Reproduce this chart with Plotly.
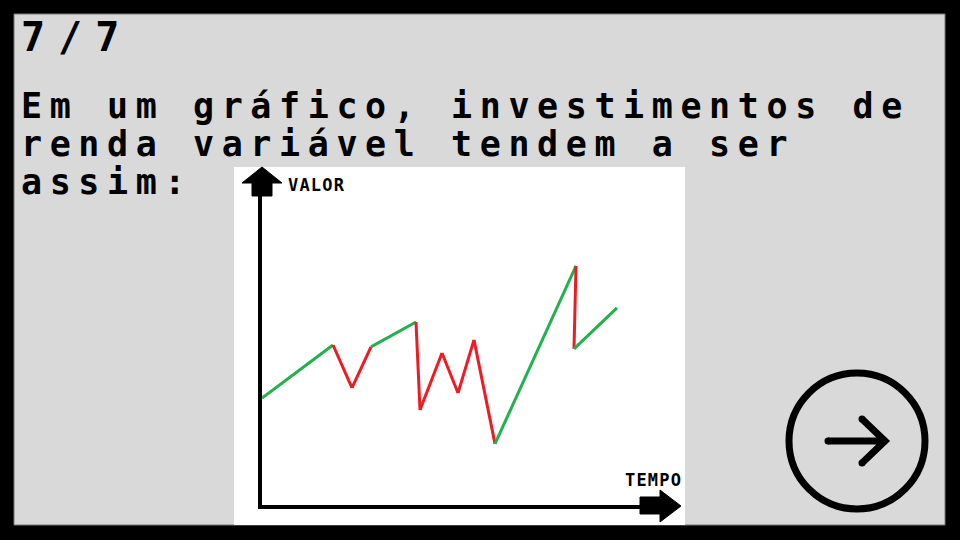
import plotly.graph_objects as go

# ---- data ----
tempo = [0, 17.75, 22.5, 27.25, 38.5, 39.5, 45, 49, 53, 58.25, 78.5, 78, 88.75]
valor = [33.4, 50, 36.6, 49.4, 57.2, 29.7, 47.5, 35, 51.6, 19.1, 74.7, 48.8, 61.6]
seg_cor = ["g", "r", "r", "g", "r", "r", "r", "r", "r", "g", "r", "g"]

titulo = "7/7"
linhas = ["Em um gráfico, investimentos de",
          "renda variável tendem a ser",
          "assim:"]
rotulo_y = "VALOR"
rotulo_x = "TEMPO"

W, H = 960, 540
VERDE = "#22b14c"
VERMELHO = "#ed1c24"
CINZA = "#d9d9d9"


def px(x):
    return x / W


def py(y):
    return 1 - y / H


def path(pts):
    s = "M " + " L ".join(f"{px(x):.5f},{py(y):.5f}" for x, y in pts) + " Z"
    return s


fig = go.Figure()

for i, c in enumerate(seg_cor):
    fig.add_trace(go.Scatter(
        x=tempo[i:i + 2], y=valor[i:i + 2], mode="lines",
        line=dict(color=VERDE if c == "g" else VERMELHO, width=3),
        hoverinfo="skip", showlegend=False))

shapes = []
# gray panel
shapes.append(dict(type="rect", xref="paper", yref="paper",
                   x0=px(14), x1=px(945), y0=py(525), y1=py(14),
                   fillcolor=CINZA, line=dict(color="#777777", width=1), layer="below"))
# white inset
shapes.append(dict(type="rect", xref="paper", yref="paper",
                   x0=px(234), x1=px(685), y0=py(525), y1=py(167),
                   fillcolor="white", line=dict(width=0), layer="below"))
# up arrow
shapes.append(dict(type="path", xref="paper", yref="paper",
                   path=path([(252, 196), (272, 196), (272, 183), (282, 183), (262, 167), (242, 183), (252, 183)]),
                   fillcolor="black", line=dict(color="black", width=1), layer="above"))
# right arrow
shapes.append(dict(type="path", xref="paper", yref="paper",
                   path=path([(640, 497), (660, 497), (660, 490), (681, 506), (660, 522), (660, 514), (640, 514)]),
                   fillcolor="black", line=dict(color="black", width=1), layer="above"))
# circle button
cx, cy, r = 857, 441, 68
shapes.append(dict(type="circle", xref="paper", yref="paper",
                   x0=px(cx - r), x1=px(cx + r), y0=py(cy + r), y1=py(cy - r),
                   line=dict(color="black", width=7), layer="above"))
shapes.append(dict(type="path", xref="paper", yref="paper",
                   path=f"M {px(828)},{py(441)} L {px(887)},{py(441)} M {px(862)},{py(419)} L {px(885)},{py(441)} L {px(862)},{py(463)}",
                   line=dict(color="black", width=7), layer="above"))
for (ex, ey) in [(828, 441), (862, 419), (862, 463)]:
    shapes.append(dict(type="circle", xref="paper", yref="paper",
                       x0=px(ex - 3.5), x1=px(ex + 3.5), y0=py(ey + 3.5), y1=py(ey - 3.5),
                       fillcolor="black", line=dict(width=0), layer="above"))

MONO = "DejaVu Sans Mono"


def sp(text, ls):
    return f'<span style="letter-spacing:{ls}px">{text}</span>'


annotations = []
annotations.append(dict(text=sp(titulo, 13), x=px(20), y=py(37), xref="paper", yref="paper",
                        xanchor="left", yanchor="middle", showarrow=False, borderpad=0,
                        font=dict(family=MONO, size=40, color="black", weight="bold")))
for i, t in enumerate(linhas):
    annotations.append(dict(text=sp(t, 7.6), x=px(20), y=py(106 + 38 * i), xref="paper", yref="paper",
                            xanchor="left", yanchor="middle", showarrow=False, borderpad=0,
                            font=dict(family=MONO, size=35, color="black", weight="bold")))
annotations.append(dict(text=sp(rotulo_y, 1.2), x=px(287), y=py(184.5), xref="paper", yref="paper",
                        xanchor="left", yanchor="middle", showarrow=False, borderpad=0,
                        font=dict(family=MONO, size=17, color="black", weight="bold")))
annotations.append(dict(text=sp(rotulo_x, 1.2), x=px(624), y=py(480), xref="paper", yref="paper",
                        xanchor="left", yanchor="middle", showarrow=False, borderpad=0,
                        font=dict(family=MONO, size=17, color="black", weight="bold")))

axis_common = dict(showgrid=False, zeroline=False, showticklabels=False, ticks="",
                   showline=True, linecolor="black", linewidth=4, fixedrange=True)

fig.update_layout(
    width=W, height=H, margin=dict(l=0, r=0, t=0, b=0),
    paper_bgcolor="black", plot_bgcolor="rgba(0,0,0,0)",
    xaxis=dict(domain=[px(262), px(662)], range=[0, 100], **axis_common),
    yaxis=dict(domain=[py(505), py(185)], range=[0, 100], **axis_common),
    shapes=shapes, annotations=annotations, showlegend=False,
)

fig.write_html("out.html", config={"displayModeBar": False},
               post_script="document.body.style.margin='0px';document.body.style.padding='0px';")
